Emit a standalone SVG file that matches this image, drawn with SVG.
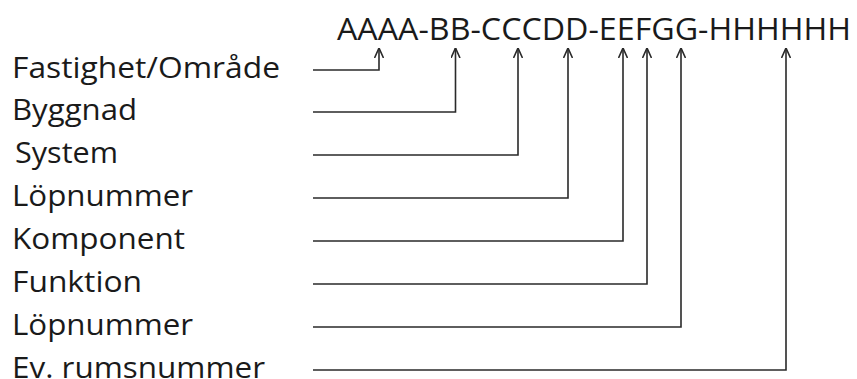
<svg xmlns="http://www.w3.org/2000/svg" width="857" height="379" viewBox="0 0 857 379">
<style>
.lbl{font-family:"Open Sans","Lato","Liberation Sans",sans-serif;font-size:29px;fill:#1a1a1a}
.hd{font-family:"Open Sans","Lato","Liberation Sans",sans-serif;font-size:31px;fill:#1a1a1a}
.c{fill:none;stroke:#2a2a2a;stroke-width:1.6;marker-end:url(#ar)}
</style>
<defs>
<marker id="ar" markerUnits="userSpaceOnUse" viewBox="0 0 10 10" refX="10" refY="5" markerWidth="10" markerHeight="10" orient="auto">
<path d="M0,0.5 L10,5 L0,9.5" fill="none" stroke="#2a2a2a" stroke-width="1.6"/>
</marker>
</defs>
<rect width="857" height="379" fill="#fff"/>
<g id="code"><text class="hd" x="337" y="40" textLength="514" lengthAdjust="spacingAndGlyphs">AAAA-BB-CCCDD-EEFGG-HHHHHH</text></g>
<g id="n1"><text class="lbl" x="12" y="78" textLength="268" lengthAdjust="spacingAndGlyphs">Fastighet/Område</text></g>
<g id="n2"><text class="lbl" x="12" y="120" textLength="125" lengthAdjust="spacingAndGlyphs">Byggnad</text></g>
<g id="n3"><text class="lbl" x="15" y="163" textLength="103" lengthAdjust="spacingAndGlyphs">System</text></g>
<g id="n4"><text class="lbl" x="12" y="206" textLength="181" lengthAdjust="spacingAndGlyphs">Löpnummer</text></g>
<g id="n5"><text class="lbl" x="12" y="249" textLength="173" lengthAdjust="spacingAndGlyphs">Komponent</text></g>
<g id="n6"><text class="lbl" x="12" y="292" textLength="130" lengthAdjust="spacingAndGlyphs">Funktion</text></g>
<g id="n7"><text class="lbl" x="12" y="335" textLength="181" lengthAdjust="spacingAndGlyphs">Löpnummer</text></g>
<g id="n8"><text class="lbl" x="12" y="378" textLength="253" lengthAdjust="spacingAndGlyphs">Ev. rumsnummer</text></g>
<g id="connectors">
<path class="c" d="M313,70 H379 V48"/>
<path class="c" d="M313,112 H455.5 V48"/>
<path class="c" d="M313,155 H518 V48"/>
<path class="c" d="M313,198 H568 V48"/>
<path class="c" d="M313,241 H623 V48"/>
<path class="c" d="M313,284 H647 V48"/>
<path class="c" d="M313,327 H681 V48"/>
<path class="c" d="M313,370 H786 V48"/>
</g>
</svg>
